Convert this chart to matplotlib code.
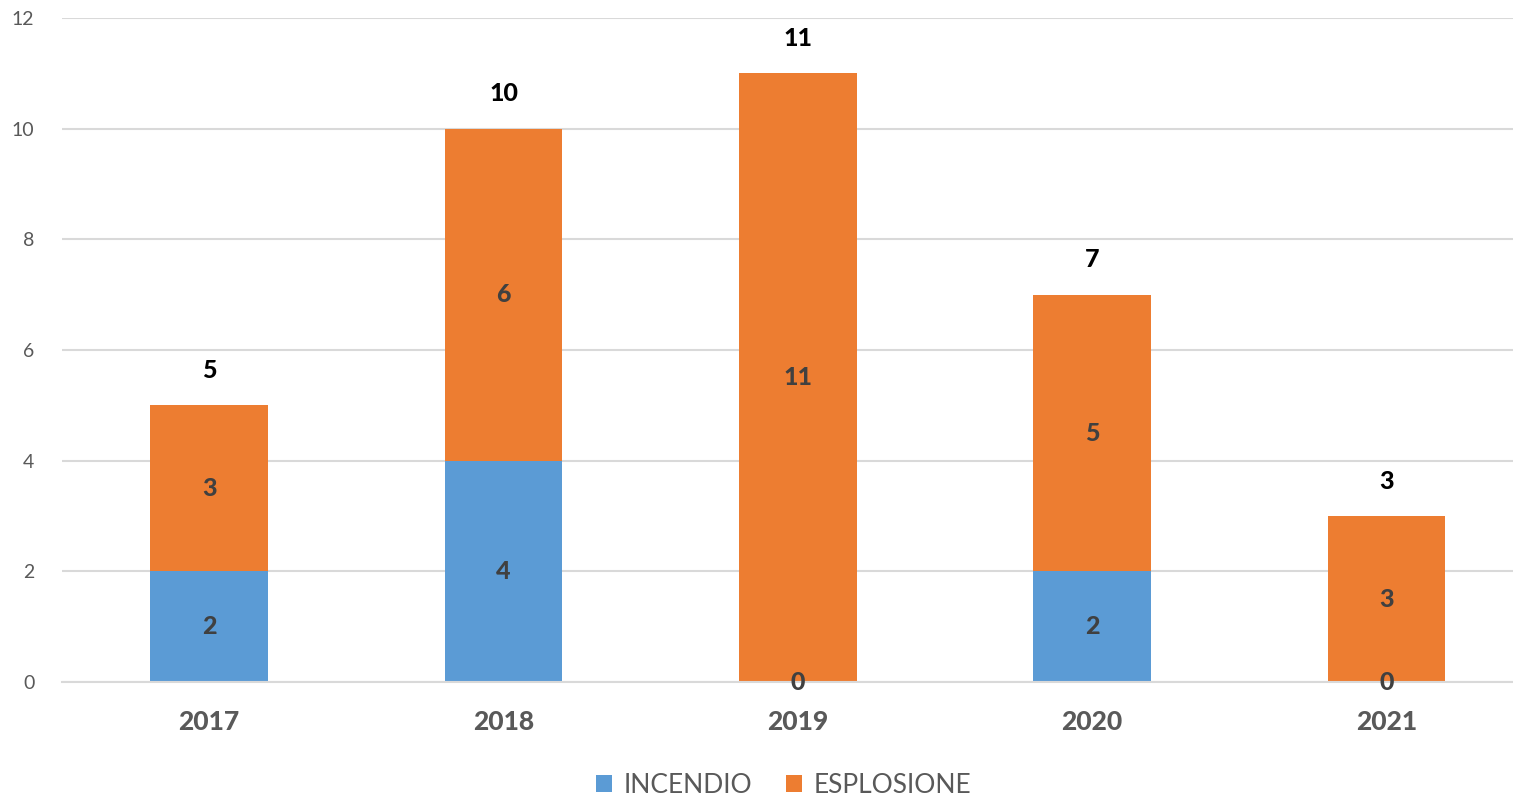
import numpy as np
import matplotlib
matplotlib.use("Agg")
import matplotlib.pyplot as plt

plt.rcParams["font.family"] = ["Lato", "DejaVu Sans"]

years = ["2017", "2018", "2019", "2020", "2021"]
incendio = [2, 4, 0, 2, 0]
esplosione = [3, 6, 11, 5, 3]

BLUE = "#5B9BD5"
ORANGE = "#ED7D31"
GRID = "#D9D9D9"
TICK = "#595959"
LABEL = "#404040"
WEIGHT = "black"

fig = plt.figure(figsize=(15.13, 7.99), dpi=100)
ax = fig.add_axes([0.041, 0.1464, 0.959, 0.8311])

x = np.arange(len(years))
w = 0.40
inc = np.array(incendio)
esp = np.array(esplosione)
b1 = ax.bar(x, inc, w, color=BLUE, label="INCENDIO", zorder=2)
b2 = ax.bar(x, esp, w, bottom=inc, color=ORANGE, label="ESPLOSIONE", zorder=2)

for xi, v in zip(x, inc):
    ax.text(xi, v / 2, str(v), ha="center", va="center", fontsize=18,
            fontweight=WEIGHT, color=LABEL, zorder=3)
for xi, b, v in zip(x, inc, esp):
    ax.text(xi, b + v / 2, str(v), ha="center", va="center", fontsize=18,
            fontweight=WEIGHT, color=LABEL, zorder=3)
for xi, t in zip(x, inc + esp):
    ax.annotate(str(t), (xi, t), xytext=(0, 25), textcoords="offset points",
                ha="center", va="center", fontsize=18, fontweight=WEIGHT,
                color="black")

ax.set_ylim(0, 12)
ax.set_xlim(-0.5, 4.43)
ax.set_yticks(range(0, 13, 2))
ax.set_xticks(x)
ax.set_xticklabels(years, fontsize=19, fontweight=WEIGHT, color=TICK)
ax.tick_params(axis="y", labelsize=14, labelcolor=TICK, length=0, pad=20)
ax.tick_params(axis="x", length=0, pad=20)
ax.grid(axis="y", color=GRID, linewidth=1.5, zorder=0)
ax.set_axisbelow(True)
for s in ["top", "right", "left"]:
    ax.spines[s].set_visible(False)
ax.spines["bottom"].set_color(GRID)
ax.spines["bottom"].set_linewidth(1.5)

fig.legend(handles=[b1, b2], loc="lower center", bbox_to_anchor=(0.518, -0.028),
           ncol=2, frameon=False, fontsize=19, labelcolor=TICK,
           handlelength=0.6, handleheight=0.6, handletextpad=0.45,
           columnspacing=1.3)

fig.savefig("out.png", dpi=100)
